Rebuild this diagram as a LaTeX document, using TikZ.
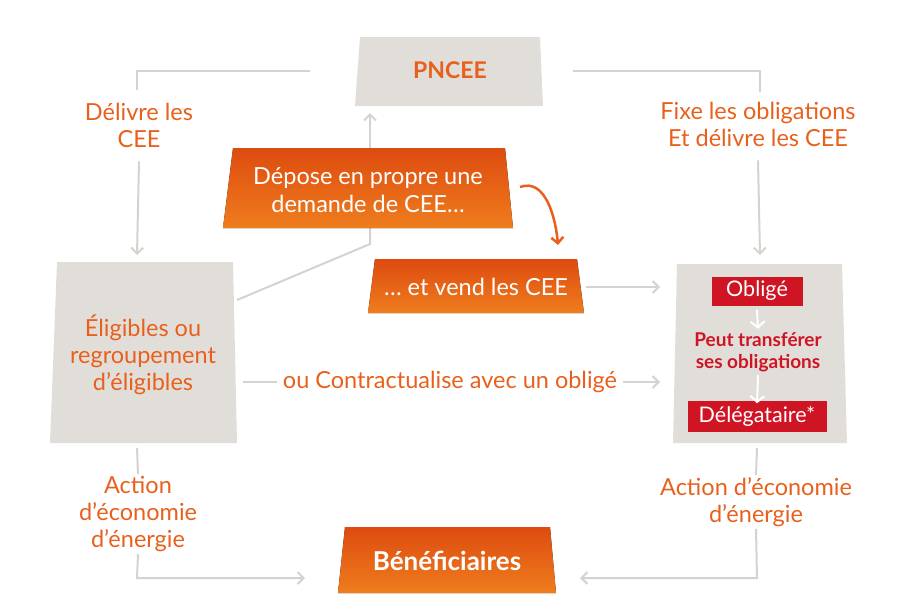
\documentclass[tikz,border=0pt]{standalone}
\usepackage{fontspec}
\setmainfont{Lato}
\usetikzlibrary{arrows.meta}
\definecolor{boxgray}{HTML}{E1DED9}
\definecolor{linegray}{HTML}{D6D3CE}
\definecolor{cee}{HTML}{E8601C}
\definecolor{ceetop}{HTML}{DD4B0F}
\definecolor{ceebot}{HTML}{EF7D1E}
\definecolor{oblig}{HTML}{CF1424}
\tikzset{
  link/.style={linegray, line width=2pt},
  tip/.style={link, -{Straight Barb[length=6pt,width=12pt]}},
  lbl/.style={cee, font=\fontsize{23.5}{27}\selectfont, align=center, inner sep=2pt},
  wlbl/.style={white, font=\fontsize{23.5}{28}\selectfont, align=center},
  orangebox/.style={top color=ceetop, bottom color=ceebot, draw=none},
  redbox/.style={fill=oblig, text=white, font=\fontsize{21.5}{25}\selectfont, inner sep=0pt},
  wtip/.style={white, line width=2pt, -{Straight Barb[length=6pt,width=14pt]}}
}
\begin{document}
\begin{tikzpicture}[x=1pt,y=-1pt]
\useasboundingbox (0,0) rectangle (907,614);
% shapes
\fill[boxgray] (360,37) -- (540,37) -- (543,106) -- (355,106) -- cycle;
\fill[boxgray] (57,262) -- (233,262) -- (237,443) -- (50,443) -- cycle;
\fill[boxgray] (677,264) -- (842,264) -- (847,443) -- (673,443) -- cycle;
% connectors behind
\coordinate (pnceeL) at (310,71);
\coordinate (pnceeR) at (573,71);
\draw[link] (pnceeL) -- (137,71) -- (137,90);
\draw[link] (pnceeR) -- (760,71) -- (760,92);
\draw[link] (237,300) -- (370,244) -- (370,200);
\draw[tip] (370,148) -- (370,113);
\fill[orangebox] (233,148) -- (505,148) -- (513,228) -- (223,228) -- cycle;
\fill[orangebox] (375,259) -- (577,259) -- (584,313) -- (368,313) -- cycle;
\fill[orangebox] (345,527) -- (550,527) -- (556,593) -- (338,593) -- cycle;
% texts
\node[cee, font=\fontsize{23}{27}\selectfont\bfseries] (pncee) at (450,70) {PNCEE};
\node[wlbl] (depose) at (368,190) {Dépose en propre une\\demande de CEE…};
\node[wlbl] (vend) at (476,287) {… et vend les CEE};
\node[white, font=\fontsize{26}{30}\selectfont\bfseries] (benef) at (447,561) {Bénéficiaires};
\node[lbl] (delivre) at (139,125) {Délivre les\\CEE};
\node[lbl] (fixe) at (758,124) {Fixe les obligations\\Et délivre les CEE};
\node[lbl] (eligibles) at (143,355) {Éligibles ou\\regroupement\\d'éligibles};
\node[lbl, inner sep=6pt] (contrat) at (450,382) {ou Contractualise avec un obligé};
\node[lbl] (actionL) at (138,514) {Action\\d'économie\\d'énergie};
\node[lbl] (actionR) at (756,502) {Action d'économie\\d'énergie};
\node[redbox, minimum width=91pt, minimum height=29pt] (oblige) at (757,291) {Obligé};
\node[oblig, font=\fontsize{19}{22}\selectfont\bfseries, align=center] (transfert) at (758,352) {Peut transférer\\ses obligations};
\node[redbox, minimum width=139pt, minimum height=31pt] (delegataire) at (757,416) {Délégataire*};
% connectors
\coordinate (vendR) at (586,287);
\draw[tip] (delivre.south) ++(0,12) -- (137,255);
\draw[tip] (fixe.south) ++(0,12) -- (760,255);
\draw[tip] (vendR) -- (660,287);
\draw[link] (243,382) -- (contrat.west);
\draw[tip] (contrat.east) -- (660,382);
\draw[link] (137,448) -- (actionL.north);
\draw[tip] (actionL.south) -- (137,578) -- (305,578);
\draw[link] (757,448) -- (actionR.north);
\draw[tip] (actionR.south) -- (757,578) -- (580,578);
\draw[wtip] (oblige.south) ++(0,4) -- (transfert.north);
\draw[wtip] (transfert.south) -- ([yshift=-3pt]delegataire.north);
\draw[cee, line width=2.5pt, -{Straight Barb[length=6pt,width=12pt]}] (520,187) to[out=20,in=95] (558,245);
\end{tikzpicture}
\end{document}
